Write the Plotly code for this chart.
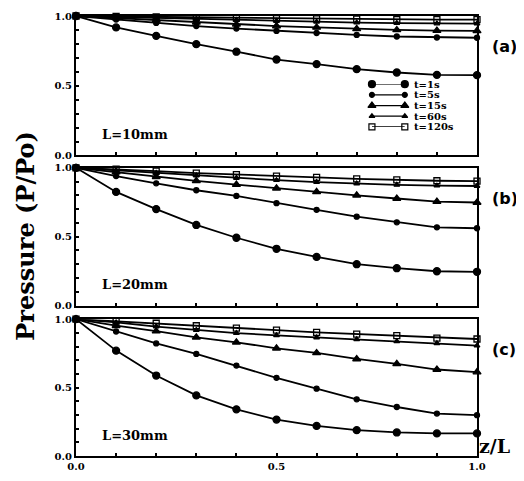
import plotly.graph_objects as go

z = [0.0, 0.1, 0.2, 0.3, 0.4, 0.5, 0.6, 0.7, 0.8, 0.9, 1.0]
times = ["t=1s", "t=5s", "t=15s", "t=60s", "t=120s"]

# Panel (a) L=10mm
a_1s   = [1.0, 0.918, 0.858, 0.798, 0.744, 0.688, 0.655, 0.619, 0.595, 0.578, 0.576]
a_5s   = [1.0, 0.975, 0.950, 0.928, 0.910, 0.893, 0.878, 0.864, 0.853, 0.846, 0.844]
a_15s  = [1.0, 0.985, 0.970, 0.955, 0.940, 0.928, 0.918, 0.908, 0.900, 0.895, 0.893]
a_60s  = [1.0, 0.993, 0.985, 0.978, 0.970, 0.964, 0.958, 0.953, 0.949, 0.946, 0.945]
a_120s = [1.0, 0.997, 0.993, 0.989, 0.985, 0.982, 0.979, 0.977, 0.975, 0.974, 0.974]

# Panel (b) L=20mm
b_1s   = [1.0, 0.825, 0.700, 0.585, 0.492, 0.412, 0.353, 0.300, 0.271, 0.249, 0.245]
b_5s   = [1.0, 0.940, 0.887, 0.837, 0.796, 0.743, 0.695, 0.645, 0.604, 0.568, 0.561]
b_15s  = [1.0, 0.968, 0.935, 0.905, 0.878, 0.851, 0.825, 0.800, 0.777, 0.755, 0.748]
b_60s  = [1.0, 0.982, 0.962, 0.943, 0.926, 0.910, 0.896, 0.885, 0.876, 0.870, 0.868]
b_120s = [1.0, 0.990, 0.976, 0.962, 0.950, 0.940, 0.930, 0.920, 0.912, 0.906, 0.903]

# Panel (c) L=30mm
c_1s   = [1.0, 0.770, 0.588, 0.443, 0.341, 0.266, 0.220, 0.189, 0.172, 0.165, 0.165]
c_5s   = [1.0, 0.910, 0.823, 0.746, 0.661, 0.571, 0.492, 0.414, 0.358, 0.310, 0.298]
c_15s  = [1.0, 0.952, 0.912, 0.867, 0.831, 0.787, 0.753, 0.709, 0.673, 0.632, 0.613]
c_60s  = [1.0, 0.976, 0.946, 0.920, 0.898, 0.882, 0.866, 0.852, 0.838, 0.823, 0.806]
c_120s = [1.0, 0.985, 0.970, 0.952, 0.935, 0.920, 0.903, 0.891, 0.879, 0.862, 0.855]

panels = [
    ("(a)", "L=10mm", [a_1s, a_5s, a_15s, a_60s, a_120s]),
    ("(b)", "L=20mm", [b_1s, b_5s, b_15s, b_60s, b_120s]),
    ("(c)", "L=30mm", [c_1s, c_5s, c_15s, c_60s, c_120s]),
]

symbols = ["circle", "circle", "triangle-up", "triangle-up", "square-open"]
msizes = [7, 5, 7, 5, 6]

domains = [[0.683, 1.0], [0.342, 0.655], [0.0, 0.311]]
SERIF = "DejaVu Serif"

fig = go.Figure()
for i, (tag, lab, series) in enumerate(panels):
    xa = "x" if i == 0 else f"x{i+1}"
    ya = "y" if i == 0 else f"y{i+1}"
    for j, s in enumerate(series):
        fig.add_trace(go.Scatter(
            x=z, y=s, xaxis=xa, yaxis=ya, mode="lines+markers",
            name=times[j], showlegend=False, cliponaxis=False,
            line=dict(color="black", width=1.8),
            marker=dict(symbol=symbols[j], size=msizes[j], color="black",
                        line=dict(color="black", width=1.3)),
        ))

# Legend drawn as a small keyed block (sample line with a marker at each end)
for j, name in enumerate(times):
    fig.add_trace(go.Scatter(
        x=[0, 1], y=[j, j], xaxis="x4", yaxis="y4", mode="lines+markers",
        showlegend=False, hoverinfo="skip", cliponaxis=False,
        line=dict(color="black", width=1.3),
        marker=dict(symbol=symbols[j], size=msizes[j], color="black",
                    line=dict(color="black", width=1.2)),
    ))
    fig.add_annotation(text=name, xref="x4", yref="y4", x=1, y=j,
                       xanchor="left", yanchor="middle", xshift=7,
                       showarrow=False,
                       font=dict(size=10, family=SERIF, weight="bold"))

tickv = [round(0.1 * k, 1) for k in range(11)]
def lbls(show):
    return [("%.1f" % v if (show and v in (0.0, 0.5, 1.0)) else "") for v in tickv]

layout = dict(
    width=516, height=473,
    margin=dict(l=68, r=47, t=2, b=25),
    paper_bgcolor="white", plot_bgcolor="white",
    font=dict(family=SERIF, color="black", size=12, weight="bold"),
    showlegend=False,
)
for i in range(3):
    xk = "xaxis" if i == 0 else f"xaxis{i+1}"
    yk = "yaxis" if i == 0 else f"yaxis{i+1}"
    ya = "y" if i == 0 else f"y{i+1}"
    xa = "x" if i == 0 else f"x{i+1}"
    layout[xk] = dict(domain=[0, 1], anchor=ya, range=[0, 1],
                      tickvals=tickv, ticktext=lbls(i == 2),
                      ticks="inside", ticklen=3, tickwidth=1.5, tickcolor="black",
                      showline=True, linecolor="black", linewidth=2, mirror=True,
                      showgrid=False, zeroline=False,
                      tickfont=dict(size=10, family=SERIF, weight="bold"))
    if i > 0:
        layout[xk]["matches"] = "x"
    layout[yk] = dict(domain=domains[i], anchor=xa, range=[0, 1],
                      tickvals=tickv, ticktext=lbls(True),
                      ticks="inside", ticklen=3, tickwidth=1.5, tickcolor="black",
                      showline=True, linecolor="black", linewidth=2, mirror=True,
                      showgrid=False, zeroline=False,
                      tickfont=dict(size=10, family=SERIF, weight="bold"))
layout["xaxis4"] = dict(domain=[0.738, 0.82], anchor="y4", range=[0, 1],
                        visible=False, fixedrange=True)
layout["yaxis4"] = dict(domain=[0.748, 0.845], anchor="x4", range=[4, 0],
                        visible=False, fixedrange=True)
fig.update_layout(**layout)

for i, (tag, lab, series) in enumerate(panels):
    xr = "x domain" if i == 0 else f"x{i+1} domain"
    yr = "y domain" if i == 0 else f"y{i+1} domain"
    fig.add_annotation(text=tag, xref=xr, yref=yr, x=1.032, y=0.78,
                       xanchor="left", yanchor="middle", showarrow=False,
                       font=dict(size=16, family="DejaVu Sans", weight="bold"))
    fig.add_annotation(text=lab, xref=xr, yref=yr, x=0.06, y=0.15,
                       xanchor="left", yanchor="middle", showarrow=False,
                       font=dict(size=13, family=SERIF, weight="bold"))

fig.add_annotation(text="Pressure (P/Po)", xref="paper", yref="paper",
                   x=-0.128, y=0.5, textangle=-90, showarrow=False,
                   xanchor="center", yanchor="middle",
                   font=dict(size=24, family=SERIF, weight="bold"))
fig.add_annotation(text="z/L", xref="x3 domain", yref="y3 domain",
                   x=1.0, y=-0.02, xanchor="left", yanchor="bottom", showarrow=False,
                   font=dict(size=19, family=SERIF, weight="bold"))

fig.write_html("out.html")
